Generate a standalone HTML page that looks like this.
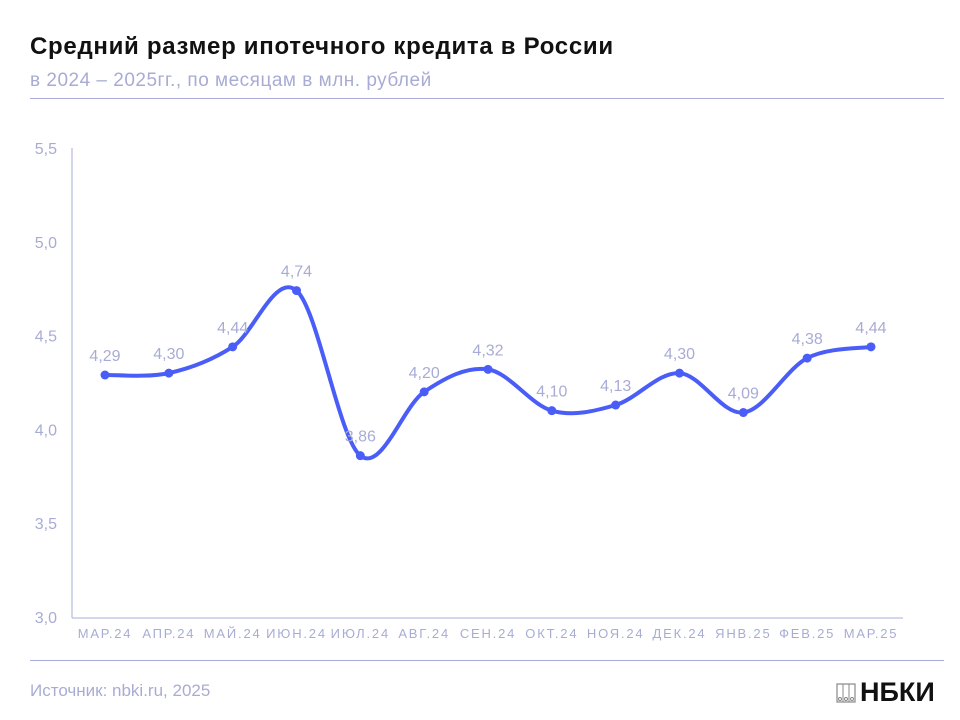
<!DOCTYPE html>
<html><head><meta charset="utf-8"><style>
body{margin:0;background:#fff;font-family:"Liberation Sans",sans-serif;}
#wrap{position:relative;width:960px;height:720px;overflow:hidden;}
.t{position:absolute;white-space:nowrap;}
</style></head><body>
<div id="wrap">
<div class="t" style="left:30px;top:33px;font-size:24px;letter-spacing:0.7px;font-weight:bold;color:#111;">Средний размер ипотечного кредита в России</div>
<div class="t" style="left:30px;top:70px;font-size:19px;letter-spacing:0.5px;color:#a8acd4;">в 2024 – 2025гг., по месяцам в млн. рублей</div>
<div style="position:absolute;left:30px;top:98px;width:914px;height:1px;background:#a8acd8;"></div>
<div style="position:absolute;left:30px;top:660px;width:914px;height:1px;background:#a8acd8;"></div>
<div class="t" style="left:30px;top:681px;font-size:17px;color:#a8acd4;">Источник: nbki.ru, 2025</div>
<div class="t" style="left:836px;top:677px;font-size:27px;font-weight:bold;color:#111;">
<svg width="20" height="20" viewBox="0 0 20 20" style="vertical-align:-2px;margin-right:4px"><rect x="1" y="1" width="18" height="18" fill="none" stroke="#888" stroke-width="1.2"/><line x1="7" y1="1" x2="7" y2="19" stroke="#888"/><line x1="13" y1="1" x2="13" y2="19" stroke="#888"/><circle cx="4" cy="16" r="1.5" fill="none" stroke="#888"/><circle cx="10" cy="16" r="1.5" fill="none" stroke="#888"/><circle cx="16" cy="16" r="1.5" fill="none" stroke="#888"/></svg>НБКИ</div>
<svg id="chart" width="960" height="720" style="position:absolute;left:0;top:0"></svg>
</div>
<script>
const categories=["МАР.24","АПР.24","МАЙ.24","ИЮН.24","ИЮЛ.24","АВГ.24","СЕН.24","ОКТ.24","НОЯ.24","ДЕК.24","ЯНВ.25","ФЕВ.25","МАР.25"];
const values=[4.29,4.30,4.44,4.74,3.86,4.20,4.32,4.10,4.13,4.30,4.09,4.38,4.44];
const valueLabels=["4,29","4,30","4,44","4,74","3,86","4,20","4,32","4,10","4,13","4,30","4,09","4,38","4,44"];
const yTicks=[3.0,3.5,4.0,4.5,5.0,5.5];
const yTickLabels=["3,0","3,5","4,0","4,5","5,0","5,5"];
const svg=document.getElementById('chart');const NS='http://www.w3.org/2000/svg';
const y=v=>617-(v-3)/2.5*469;
const x=i=>105+i*(871-105)/(categories.length-1);
function mk(t,a){const e=document.createElementNS(NS,t);for(const k in a)e.setAttribute(k,a[k]);svg.appendChild(e);return e;}
let e=mk('line',{x1:72,y1:148,x2:72,y2:618,stroke:'#a8acd8','stroke-width':1});


e=mk('line',{x1:72,y1:618,x2:903,y2:618,stroke:'#a8acd8','stroke-width':1});


yTicks.forEach((v,i)=>{const t=mk('text',{x:57,y:y(v)+6,'text-anchor':'end','font-size':16,fill:'#a8acd4','font-family':'Liberation Sans'});t.textContent=yTickLabels[i];

});
categories.forEach((c,i)=>{const t=mk('text',{x:x(i),y:638,'text-anchor':'middle','font-size':13,fill:'#a8acd4','letter-spacing':'1.8','font-family':'Liberation Sans'});t.textContent=c;

});
const P=values.map((v,i)=>[x(i),y(v)]);
let d='M'+P[0][0]+','+P[0][1];
for(let i=0;i<P.length-1;i++){const p0=P[i-1]||P[i],p1=P[i],p2=P[i+1],p3=P[i+2]||p2;const k=1/6;
d+=' C'+(p1[0]+(p2[0]-p0[0])*k)+','+(p1[1]+(p2[1]-p0[1])*k)+' '+(p2[0]-(p3[0]-p1[0])*k)+','+(p2[1]-(p3[1]-p1[1])*k)+' '+p2[0]+','+p2[1];}
e=mk('path',{d:d,fill:'none',stroke:'#4a5ef7','stroke-width':4,'stroke-linecap':'round'});


P.forEach((p,i)=>{const c=mk('circle',{cx:p[0],cy:p[1],r:4.5,fill:'#4a5ef7'});


const t=mk('text',{x:p[0],y:p[1]-14,'text-anchor':'middle','font-size':16,fill:'#a8acd4','font-family':'Liberation Sans'});t.textContent=valueLabels[i];

});
</script>
</body></html>
